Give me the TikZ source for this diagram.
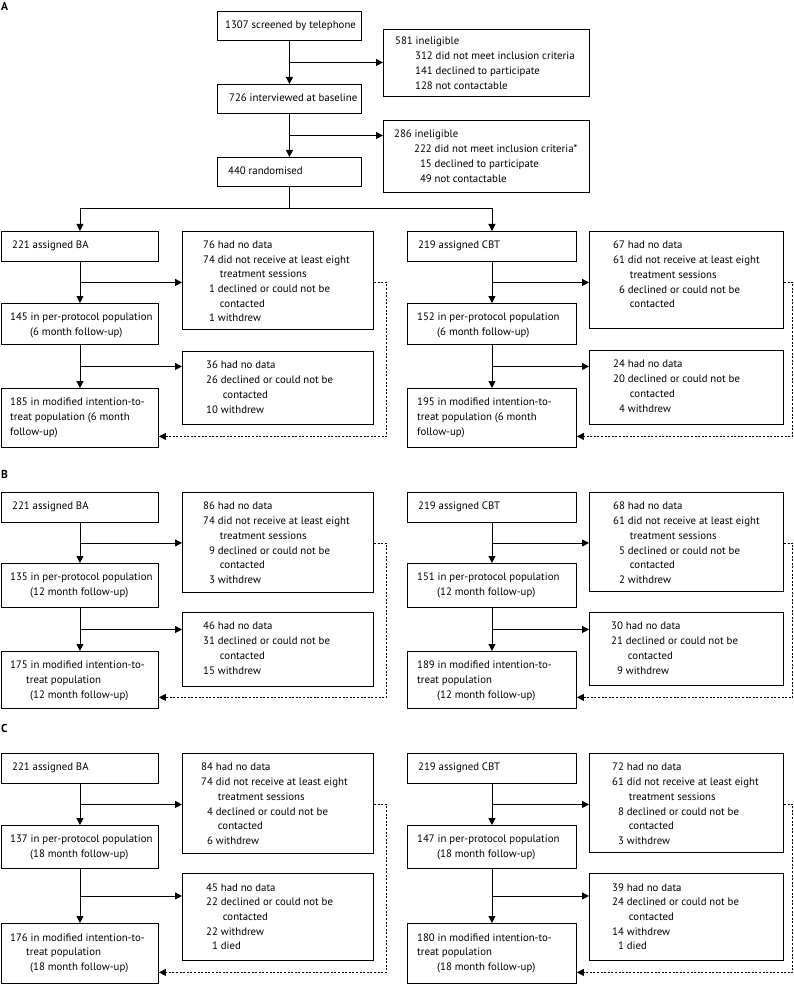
\documentclass[tikz,border=0pt]{standalone}
\usepackage{fontspec}
\setmainfont{PT Sans}
\usetikzlibrary{calc,arrows.meta}
\tikzset{
  frame/.style = {draw, line width=.9pt, anchor=north west, inner sep=0mm},
  txt/.style = {anchor=north west, inner sep=0mm, font=\fontsize{10.8}{14.7}\selectfont},
  arr/.style = {line width=.9pt, -{Triangle[length=7pt,width=7pt]}},
  darr/.style = {arr, dash pattern=on 2pt off 1.6pt},
  panel/.style = {anchor=base west, inner sep=0mm, font=\bfseries\fontsize{11.5}{13}\selectfont},
}
% box with its text set from the top left corner
\newcommand{\flowbox}[7]{%
  \node[frame, minimum width=#4, minimum height=#5] (#1) at (#2,#3) {};
  \node[txt] (#1t) at ([shift={(#6)}]#1.north west) {#7};}
\newcommand{\lns}[1]{\begin{tabular}{@{}l@{}}#1\end{tabular}}
\newcommand{\lst}[1]{\begin{tabular}{@{}r@{\ }l@{}}#1\end{tabular}}
% links of one arm: assigned, per-protocol, itt, two drop-out boxes, dash offset
\newcommand{\armlinks}[6]{%
  \coordinate (#1j) at ($(#1.south)!.5!(#2.north)$);
  \coordinate (#2j) at ($(#2.south)!.5!(#3.north)$);
  \draw[arr] (#1.south) -- (#2.north);
  \draw[arr] (#2.south) -- (#3.north);
  \draw[arr] (#1j) -- (#1j -| #4.west);
  \draw[arr] (#2j) -- (#2j -| #5.west);
  \draw[darr] (#1j -| #4.east) -- ++(#6,0) |- ([yshift=11.5pt]#3.south east);}

\begin{document}
\begin{tikzpicture}[x=1pt,y=-1pt]
\useasboundingbox (0,0) rectangle (793,984);
% A: screening
\node[panel] (pA) at (1,11) {A};
\flowbox{scr}{217}{11}{144}{29}{8,7.5}{\lns{1307 screened by telephone}}
\flowbox{itv}{217}{84}{144}{29}{12,7.5}{\lns{726 interviewed at baseline}}
\flowbox{rnd}{217}{157}{144}{29}{11,7.5}{\lns{440 randomised}}
\flowbox{ine1}{383}{29}{206}{67}{12,5.5}{\lst{\multicolumn{2}{@{}l@{}}{581 ineligible}\\
  \hspace*{20pt}312 & did not meet inclusion criteria\\ 141 & declined to participate\\ 128 & not contactable}}
\flowbox{ine2}{383}{120}{206}{72}{11,7.5}{\lst{\multicolumn{2}{@{}l@{}}{286 ineligible}\\
  \hspace*{20pt}222 & did not meet inclusion criteria*\\ 15 & declined to participate\\ 49 & not contactable}}
\coordinate (j0) at ($(scr.south)!.5!(itv.north)$);
\coordinate (j1) at ($(itv.south)!.5!(rnd.north)$);
\draw[arr] (scr.south) -- (itv.north);
\draw[arr] (itv.south) -- (rnd.north);
\draw[arr] (j0) -- (j0 -| ine1.west);
\draw[arr] (j1) -- (j1 -| ine2.west);
% A: 6 months
\flowbox{baA}{1}{231}{157}{30}{11,7.5}{\lns{221 assigned BA}}
\flowbox{ppA}{1}{303}{157}{41}{9,7.5}{\lns{145 in per-protocol population\\ \hspace*{20pt}(6 month follow-up)}}
\flowbox{ittA}{1}{388}{157}{59}{9,7.5}{\lns{185 in modified intention-to-\\ treat population (6 month\\ follow-up)}}
\flowbox{sA1}{182}{231}{191}{98}{21,7}{\lst{76 & had no data\\ 74 & did not receive at least eight\\
  & \hspace*{2pt}treatment sessions\\ 1 & declined or could not be\\ & \hspace*{2pt}contacted\\ 1 & withdrew}}
\flowbox{sA2}{182}{351}{191}{73}{24,7.5}{\lst{36 & had no data\\ 26 & declined or could not be\\
  & \hspace*{2pt}contacted\\ 10 & withdrew}}
\flowbox{cbtA}{407}{231}{169}{30}{11,7.5}{\lns{219 assigned CBT}}
\flowbox{ppcA}{407}{303}{169}{41}{10,7.5}{\lns{152 in per-protocol population\\ \hspace*{20pt}(6 month follow-up)}}
\flowbox{ittcA}{407}{388}{169}{59}{10,7.5}{\lns{195 in modified intention-to-\\ treat population (6 month\\ follow-up)}}
\flowbox{scA1}{589}{231}{194}{97}{24,7.5}{\lst{67 & had no data\\ 61 & did not receive at least eight\\
  & \hspace*{2pt}treatment sessions\\ 6 & declined or could not be\\ & \hspace*{2pt}contacted}}
\flowbox{scA2}{589}{350}{194}{74}{24,7.5}{\lst{24 & had no data\\ 20 & declined or could not be\\
  & \hspace*{2pt}contacted\\ 4 & withdrew}}
\coordinate (split) at ($(rnd.south)!.5!(rnd.south |- baA.north)$);
\draw[line width=.9pt] (rnd.south) -- (split);
\draw[arr] (split) -| (baA.north);
\draw[arr] (split) -| (cbtA.north);
\armlinks{baA}{ppA}{ittA}{sA1}{sA2}{12.5}
\armlinks{cbtA}{ppcA}{ittcA}{scA1}{scA2}{9}
% B: 12 months
\node[panel] (pB) at (1,478.5) {B};
\flowbox{baB}{1}{492}{157}{30}{11,7.5}{\lns{221 assigned BA}}
\flowbox{ppB}{1}{563}{157}{44}{9,7.5}{\lns{135 in per-protocol population\\ \hspace*{20pt}(12 month follow-up)}}
\flowbox{ittB}{1}{651}{157}{57}{9,7.5}{\lns{175 in modified intention-to-\\ \hspace*{16pt}treat population\\ \hspace*{20pt}(12 month follow-up)}}
\flowbox{sB1}{182}{492}{191}{100}{21,7.5}{\lst{86 & had no data\\ 74 & did not receive at least eight\\
  & \hspace*{2pt}treatment sessions\\ 9 & declined or could not be\\ & \hspace*{2pt}contacted\\ 3 & withdrew}}
\flowbox{sB2}{182}{612}{191}{74}{21,7.5}{\lst{46 & had no data\\ 31 & declined or could not be\\
  & \hspace*{2pt}contacted\\ 15 & withdrew}}
\flowbox{cbtB}{407}{492}{169}{30}{11,7.5}{\lns{219 assigned CBT}}
\flowbox{ppcB}{407}{563}{169}{44}{10,7.5}{\lns{151 in per-protocol population\\ \hspace*{20pt}(12 month follow-up)}}
\flowbox{ittcB}{407}{651}{169}{57}{10,7.5}{\lns{189 in modified intention-to-\\ treat population\\ \hspace*{20pt}(12 month follow-up)}}
\flowbox{scB1}{589}{492}{194}{99}{24,7.5}{\lst{68 & had no data\\ 61 & did not receive at least eight\\
  & \hspace*{2pt}treatment sessions\\ 5 & declined or could not be\\ & \hspace*{2pt}contacted\\ 2 & withdrew}}
\flowbox{scB2}{589}{612}{194}{73}{22,7.5}{\lst{30 & had no data\\ 21 & declined or could not be\\
  & \hspace*{2pt}contacted\\ 9 & withdrew}}
\armlinks{baB}{ppB}{ittB}{sB1}{sB2}{12.5}
\armlinks{cbtB}{ppcB}{ittcB}{scB1}{scB2}{9}
% C: 18 months
\node[panel] (pC) at (1,732.5) {C};
\flowbox{baC}{1}{753}{157}{30}{11,7.5}{\lns{221 assigned BA}}
\flowbox{ppC}{1}{825}{157}{43}{9,7.5}{\lns{137 in per-protocol population\\ \hspace*{20pt}(18 month follow-up)}}
\flowbox{ittC}{1}{923}{157}{60}{9,7.5}{\lns{176 in modified intention-to-\\ \hspace*{16pt}treat population\\ \hspace*{20pt}(18 month follow-up)}}
\flowbox{sC1}{182}{753}{191}{100}{19,7.5}{\lst{84 & had no data\\ 74 & did not receive at least eight\\
  & \hspace*{2pt}treatment sessions\\ 4 & declined or could not be\\ & \hspace*{2pt}contacted\\ 6 & withdrew}}
\flowbox{sC2}{182}{873}{191}{87}{24,7.5}{\lst{45 & had no data\\ 22 & declined or could not be\\
  & \hspace*{2pt}contacted\\ 22 & withdrew\\ 1 & died}}
\flowbox{cbtC}{407}{753}{169}{30}{11,7.5}{\lns{219 assigned CBT}}
\flowbox{ppcC}{407}{825}{169}{43}{10,7.5}{\lns{147 in per-protocol population\\ \hspace*{20pt}(18 month follow-up)}}
\flowbox{ittcC}{407}{923}{169}{60}{10,7.5}{\lns{180 in modified intention-to-\\ treat population\\ \hspace*{20pt}(18 month follow-up)}}
\flowbox{scC1}{589}{753}{194}{99}{23,7.5}{\lst{72 & had no data\\ 61 & did not receive at least eight\\
  & \hspace*{2pt}treatment sessions\\ 8 & declined or could not be\\ & \hspace*{2pt}contacted\\ 3 & withdrew}}
\flowbox{scC2}{589}{873}{194}{87}{23,7.5}{\lst{39 & had no data\\ 24 & declined or could not be\\
  & \hspace*{2pt}contacted\\ 14 & withdrew\\ 1 & died}}
\armlinks{baC}{ppC}{ittC}{sC1}{sC2}{12.5}
\armlinks{cbtC}{ppcC}{ittcC}{scC1}{scC2}{9}
\end{tikzpicture}
\end{document}
